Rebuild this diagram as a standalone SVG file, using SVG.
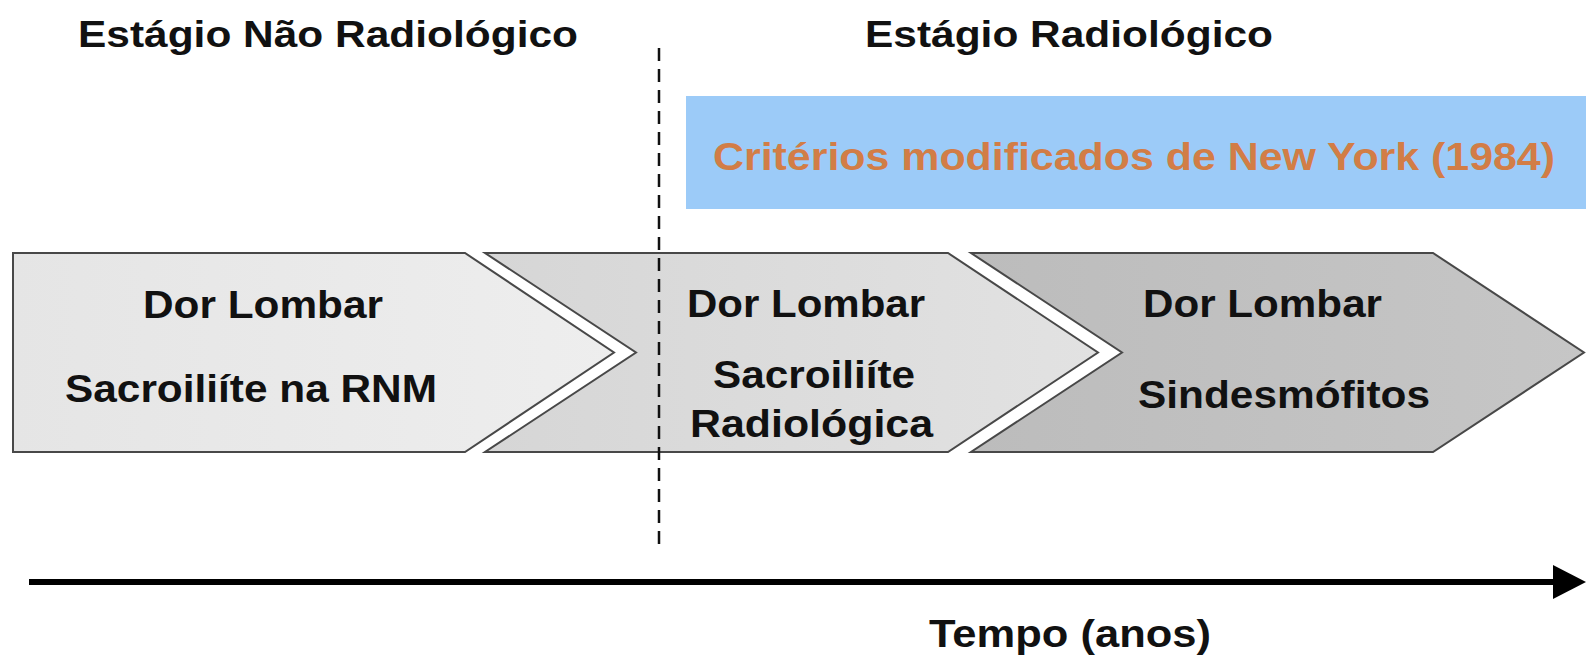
<svg xmlns="http://www.w3.org/2000/svg" width="1587" height="656" viewBox="0 0 1587 656">
  <defs>
    <style>
      text { font-family: "Liberation Sans", Arial, sans-serif; font-weight: bold; fill: #111; }
      .title { font-size: 36px; }
      .lbl { font-size: 39px; }
      .crit { font-size: 38px; fill: #d27d46; }
      .chev { stroke: #484848; stroke-width: 2; stroke-linejoin: miter; }
    </style>
    <linearGradient id="g1" x1="0" y1="0" x2="1" y2="0">
      <stop offset="0" stop-color="#e5e5e5"/>
      <stop offset="1" stop-color="#eeeeee"/>
    </linearGradient>
    <linearGradient id="g2" x1="0" y1="0" x2="1" y2="0">
      <stop offset="0" stop-color="#d6d6d6"/>
      <stop offset="1" stop-color="#e2e2e2"/>
    </linearGradient>
    <linearGradient id="g3" x1="0" y1="0" x2="1" y2="0">
      <stop offset="0" stop-color="#bcbcbc"/>
      <stop offset="1" stop-color="#c6c6c6"/>
    </linearGradient>
  </defs>
  <rect x="0" y="0" width="1587" height="656" fill="#ffffff"/>

  <g id="title-nao-radiologico">
    <text class="title" x="78" y="46.5" textLength="500" lengthAdjust="spacingAndGlyphs">Estágio Não Radiológico</text>
  </g>
  <g id="title-radiologico">
    <text class="title" x="865" y="46.5" textLength="408" lengthAdjust="spacingAndGlyphs">Estágio Radiológico</text>
  </g>

  <g id="criterios">
    <rect x="686" y="96" width="900" height="113" fill="#9ccbf8"/>
    <text class="crit" x="713" y="170" textLength="842" lengthAdjust="spacingAndGlyphs">Critérios modificados de New York (1984)</text>
  </g>

  <g id="chevron1">
    <path class="chev" fill="url(#g1)" d="M13,253 L465,253 L614,352.5 L465,452 L13,452 Z"/>
    <text class="lbl" x="143" y="318" textLength="240" lengthAdjust="spacingAndGlyphs">Dor Lombar</text>
    <text class="lbl" x="65" y="401.5" textLength="372" lengthAdjust="spacingAndGlyphs">Sacroiliíte na RNM</text>
  </g>

  <g id="chevron2">
    <path class="chev" fill="url(#g2)" d="M485,253 L948,253 L1098,352.5 L948,452 L485,452 L636,352.5 Z"/>
    <text class="lbl" x="687" y="316.5" textLength="238" lengthAdjust="spacingAndGlyphs">Dor Lombar</text>
    <text class="lbl" x="713" y="388" textLength="202" lengthAdjust="spacingAndGlyphs">Sacroiliíte</text>
    <text class="lbl" x="690" y="437" textLength="243" lengthAdjust="spacingAndGlyphs">Radiológica</text>
  </g>

  <g id="chevron3">
    <path class="chev" fill="url(#g3)" d="M971,253 L1433,253 L1584,352.5 L1433,452 L971,452 L1122,352.5 Z"/>
    <text class="lbl" x="1143" y="316.5" textLength="239" lengthAdjust="spacingAndGlyphs">Dor Lombar</text>
    <text class="lbl" x="1138" y="408" textLength="292" lengthAdjust="spacingAndGlyphs">Sindesmófitos</text>
  </g>

  <g id="connectors">
    <line id="divider" x1="659" y1="48" x2="659" y2="552" stroke="#111" stroke-width="2.5" stroke-dasharray="13 8"/>
    <line id="time-axis" x1="29" y1="582" x2="1556" y2="582" stroke="#000" stroke-width="6"/>
    <polygon points="1553,565 1586,582 1553,599" fill="#000"/>
  </g>

  <g id="axis-label">
    <text class="lbl" x="929" y="647" textLength="282" lengthAdjust="spacingAndGlyphs">Tempo (anos)</text>
  </g>
</svg>
